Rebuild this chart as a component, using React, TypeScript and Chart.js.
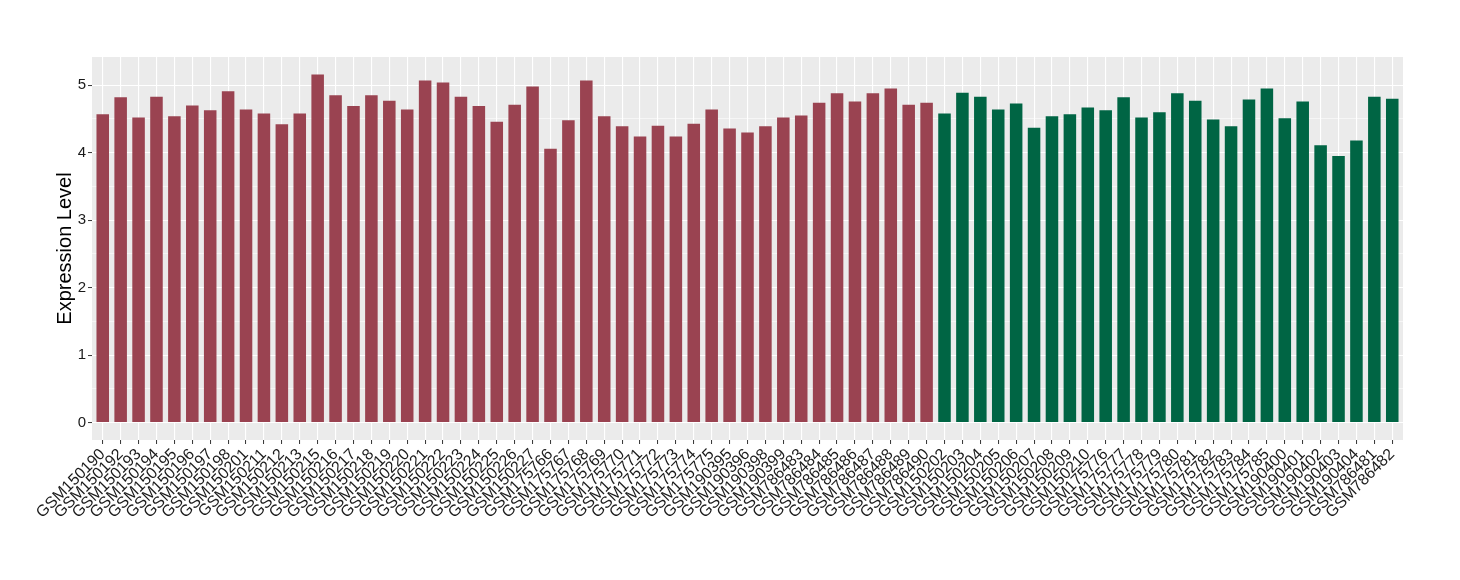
import React, { useEffect, useRef } from "react";
import { Chart, registerables } from "chart.js";

Chart.register(...registerables);

const groupALabels = [
  "GSM150190", "GSM150192", "GSM150193", "GSM150194", "GSM150195", "GSM150196",
  "GSM150197", "GSM150198", "GSM150201", "GSM150211", "GSM150212", "GSM150213",
  "GSM150215", "GSM150216", "GSM150217", "GSM150218", "GSM150219", "GSM150220",
  "GSM150221", "GSM150222", "GSM150223", "GSM150224", "GSM150225", "GSM150226",
  "GSM150227", "GSM175766", "GSM175767", "GSM175768", "GSM175769", "GSM175770",
  "GSM175771", "GSM175772", "GSM175773", "GSM175774", "GSM175775", "GSM190395",
  "GSM190396", "GSM190398", "GSM190399", "GSM786483", "GSM786484", "GSM786485",
  "GSM786486", "GSM786487", "GSM786488", "GSM786489", "GSM786490",
];
const groupAValues = [
  4.57, 4.82, 4.52, 4.83, 4.54, 4.70, 4.63, 4.91, 4.64, 4.58, 4.42, 4.58,
  5.16, 4.85, 4.69, 4.85, 4.77, 4.64, 5.07, 5.04, 4.83, 4.69, 4.46, 4.71,
  4.98, 4.06, 4.48, 5.07, 4.54, 4.39, 4.24, 4.40, 4.24, 4.43, 4.64, 4.36,
  4.30, 4.39, 4.52, 4.55, 4.74, 4.88, 4.76, 4.88, 4.95, 4.71, 4.74,
];

const groupBLabels = [
  "GSM150202", "GSM150203", "GSM150204", "GSM150205", "GSM150206", "GSM150207",
  "GSM150208", "GSM150209", "GSM150210", "GSM175776", "GSM175777", "GSM175778",
  "GSM175779", "GSM175780", "GSM175781", "GSM175782", "GSM175783", "GSM175784",
  "GSM175785", "GSM190400", "GSM190401", "GSM190402", "GSM190403", "GSM190404",
  "GSM786481", "GSM786482",
];
const groupBValues = [
  4.58, 4.89, 4.83, 4.64, 4.73, 4.37, 4.54, 4.57, 4.67, 4.63, 4.82, 4.52,
  4.60, 4.88, 4.77, 4.49, 4.39, 4.79, 4.95, 4.51, 4.76, 4.11, 3.95, 4.18,
  4.83, 4.80,
];

const yTickValues = [0, 0.5, 1, 1.5, 2, 2.5, 3, 3.5, 4, 4.5, 5];

const allLabels = [...groupALabels, ...groupBLabels];

export default function App() {
  const canvasRef = useRef<HTMLCanvasElement | null>(null);

  useEffect(() => {
    const canvas = canvasRef.current;
    if (!canvas) return;

    const dataA = groupAValues.map((v, i) => ({ x: i, y: v }));
    const dataB = groupBValues.map((v, i) => ({ x: groupALabels.length + i, y: v }));

    const allVals = [...groupAValues, ...groupBValues];
    const yMaxData = Math.max(...allVals);
    const yPad = yMaxData * 0.05;
    const n = allLabels.length;

    const panelBg = {
      id: "panelBg",
      beforeDraw(chart: any) {
        const { ctx, chartArea } = chart;
        ctx.save();
        ctx.fillStyle = "#EBEBEB";
        ctx.fillRect(chartArea.left, chartArea.top, chartArea.right - chartArea.left, chartArea.bottom - chartArea.top);
        ctx.restore();
      },
    };

    const chart = new Chart(canvas, {
      type: "bar",
      data: {
        datasets: [
          {
            label: "A",
            data: dataA,
            backgroundColor: "#9A4351",
            grouped: false,
            barPercentage: 0.7,
            categoryPercentage: 1,
          },
          {
            label: "B",
            data: dataB,
            backgroundColor: "#006544",
            grouped: false,
            barPercentage: 0.7,
            categoryPercentage: 1,
          },
        ],
      },
      options: {
        animation: false,
        responsive: false,
        maintainAspectRatio: false,
        layout: { padding: { top: 57, right: 57, left: 0, bottom: 0 } },
        plugins: {
          legend: { display: false },
          tooltip: { enabled: false },
        },
        scales: {
          x: {
            type: "linear",
            offset: false,
            min: -0.6,
            max: n - 1 + 0.6,
            afterBuildTicks: (scale: any) => {
              scale.ticks = allLabels.map((_, i) => ({ value: i }));
            },
            afterFit: (scale: any) => {
              scale.height = 140;
            },
            border: { display: false },
            grid: {
              offset: false,
              color: "#FFFFFF",
              lineWidth: 1.1,
              tickColor: "#333333",
              tickLength: 4,
              tickWidth: 1,
            },
            ticks: {
              autoSkip: false,
              maxRotation: 45,
              minRotation: 45,
              padding: 1,
              color: "#1A1A1A",
              font: { family: "'Liberation Sans', Arial, sans-serif", size: 16 },
              callback: (value: any) => allLabels[value as number] ?? "",
            },
          },
          y: {
            type: "linear",
            min: -yPad,
            max: yMaxData + yPad,
            afterBuildTicks: (scale: any) => {
              scale.ticks = yTickValues.map((v) => ({ value: v }));
            },
            afterFit: (scale: any) => {
              scale.width = 92;
            },
            border: { display: false },
            grid: {
              color: "#FFFFFF",
              lineWidth: (ctx: any) => (ctx.tick && ctx.tick.value % 1 === 0 ? 1.1 : 0.55),
              tickColor: (ctx: any) => (ctx.tick && ctx.tick.value % 1 === 0 ? "#333333" : "rgba(0,0,0,0)"),
              tickLength: 4,
              tickWidth: 1,
            },
            ticks: {
              padding: 2,
              color: "#1A1A1A",
              font: { family: "'Liberation Sans', Arial, sans-serif", size: 15 },
              callback: (value: any) => (Number(value) % 1 === 0 ? String(value) : ""),
            },
            title: {
              display: true,
              text: "Expression Level",
              color: "#000000",
              font: { family: "'Liberation Sans', Arial, sans-serif", size: 20 },
              padding: { top: 53, bottom: 0 },
            },
          },
        },
      },
      plugins: [panelBg],
    } as any);

    return () => {
      chart.destroy();
    };
  }, []);

  return (
    <div style={{ position: "fixed", left: 0, top: 0, width: 1460, height: 580, background: "#FFFFFF" }}>
      <canvas ref={canvasRef} width={1460} height={580} style={{ width: 1460, height: 580, display: "block" }} />
    </div>
  );
}
